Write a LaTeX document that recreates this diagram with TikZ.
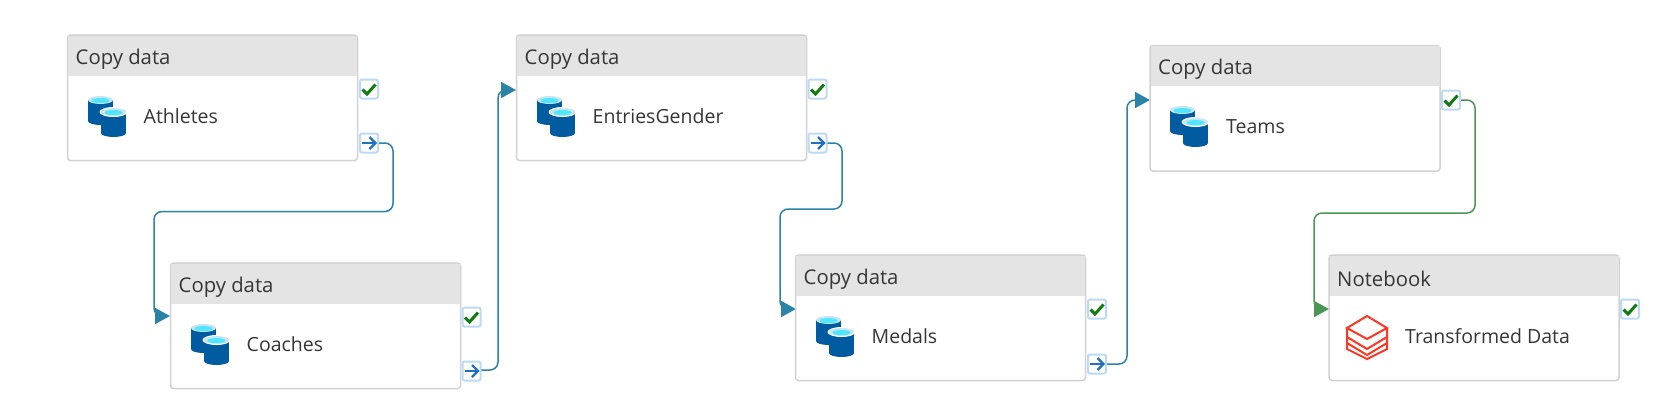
\documentclass[tikz,border=0pt]{standalone}
\usepackage{fontspec}
\setmainfont{Open Sans}
\usetikzlibrary{arrows.meta,calc}
\definecolor{boxline}{HTML}{D2D2D2}
\definecolor{headfill}{HTML}{E4E4E4}
\definecolor{inktext}{HTML}{363636}
\definecolor{dbblue}{HTML}{005BA1}
\definecolor{dbcyan}{HTML}{50E6FF}
\definecolor{dbrim}{HTML}{C8E6F0}
\definecolor{dbred}{HTML}{FF3621}
\definecolor{okgreen}{HTML}{107C10}
\definecolor{arrowblue}{HTML}{1F70C1}
\definecolor{iconedge}{HTML}{BBDAF5}
\definecolor{flowteal}{HTML}{2B84A8}
\definecolor{flowgreen}{HTML}{4A9655}
\tikzset{
  x=1pt,y=-1pt,
  actbox/.style={draw=boxline,line width=1.5pt,fill=white,rounded corners=3pt,minimum width=290pt,minimum height=125.5pt,anchor=north west,inner sep=0pt,outer sep=0pt},
  acthead/.style={fill=headfill,minimum width=289pt,minimum height=40pt,anchor=north west,inner sep=0pt,outer sep=0pt},
  acttype/.style={anchor=west,text=inktext,inner sep=0pt,font=\fontsize{20.3}{24}\selectfont},
  actname/.style={anchor=west,text=inktext,inner sep=0pt,font=\fontsize{19.5}{24}\selectfont},
  iconbox/.style={draw=iconedge,line width=2pt,fill=white,rounded corners=2pt,minimum width=18pt,minimum height=19pt,inner sep=0pt,outer sep=0pt},
  flow/.style={draw=flowteal,line width=1.5pt,rounded corners=8pt,-{Triangle[length=15pt,width=16pt,fill=flowteal]}},
  flowok/.style={draw=flowgreen,line width=1.5pt,rounded corners=8pt,-{Triangle[length=15pt,width=16pt,fill=flowgreen]}},
  checkmark/.style={draw=okgreen,line width=3pt},
  gomark/.style={draw=arrowblue,line width=2.4pt},
  dbicon/.pic={
    \fill[dbblue] (0,4) rectangle (25,25);
    \fill[dbblue] (12.5,25) ellipse [x radius=12.5pt,y radius=4pt];
    \fill[dbrim] (12.5,4) ellipse [x radius=12.5pt,y radius=4pt];
    \fill[dbcyan] (12.5,4.6) ellipse [x radius=9pt,y radius=2.6pt];
    \fill[dbblue] (13,16) rectangle (38,37);
    \fill[dbblue] (25.5,37) ellipse [x radius=12.5pt,y radius=4pt];
    \fill[white] (25.5,16) ellipse [x radius=14pt,y radius=5pt];
    \fill[dbrim] (25.5,16) ellipse [x radius=12.5pt,y radius=4pt];
    \fill[dbcyan] (25.5,16.6) ellipse [x radius=9pt,y radius=2.6pt];
  },
  brickicon/.pic={
    \draw[dbred,line width=2pt,line join=miter] (20,0) -- (0,12) -- (20,23) -- (40,12) -- cycle;
    \draw[dbred,line width=2pt] (0,12) -- (0,21) -- (20,33) -- (40,21) -- (40,12);
    \draw[dbred,line width=2pt] (0,27) -- (20,39) -- (40,27) -- (40,21);
    \draw[dbred,line width=2pt] (0,21) -- (0,33) -- (20,43) -- (40,33) -- (40,27);
  }
}
\newcommand{\activity}[5]{%
  \node[actbox] (#1) at (#2,#3) {};
  \node[acthead] (#1head) at ({#2+0.5},{#3+0.5}) {};
  \node[acttype] (#1type) at ({#2+8},{#3+24}) {#4};
  \node[actname] (#1name) at ({#2+76},{#3+81.5}) {#5};
}
\newcommand{\okicon}[3]{%
  \node[iconbox] (#1) at (#2,#3) {};
  \draw[checkmark] ($(#1.center)+(-6.5,0.5)$) -- ($(#1.center)+(-2,5)$) -- ($(#1.center)+(6.5,-4.5)$);
}
\newcommand{\goicon}[3]{%
  \node[iconbox] (#1) at (#2,#3) {};
  \draw[gomark] ($(#1.center)+(-7,0)$) -- ($(#1.center)+(6,0)$);
  \draw[gomark] ($(#1.center)+(0.5,-6)$) -- ($(#1.center)+(6.5,0)$) -- ($(#1.center)+(0.5,6)$);
}
\begin{document}
\begin{tikzpicture}
\useasboundingbox (0,0) rectangle (1679,413);
\fill[white] (0,0) rectangle (1679,413);

% connectors
\coordinate (t1a) at (393,211.5);
\coordinate (t1b) at (154,211.5);
\coordinate (in2) at (170,316);
\coordinate (t2a) at (498,90);
\coordinate (in3) at (516,90);
\coordinate (t3a) at (842,209);
\coordinate (t3b) at (780,209);
\coordinate (in4) at (796,309);
\coordinate (t4a) at (1127,100);
\coordinate (in5) at (1150,100);
\coordinate (t5a) at (1475,213);
\coordinate (t5b) at (1314,213);
\coordinate (in6) at (1329,309);
\coordinate (o1) at (378,143);
\coordinate (o2) at (480,370);
\coordinate (o3) at (827,143);
\coordinate (o4) at (1106,364);
\coordinate (o5) at (1460,100);

\draw[flow] (o1) -| (t1a) -- (t1b) |- (in2);
\draw[flow] (o2) -| (t2a) -- (in3);
\draw[flow] (o3) -| (t3a) -- (t3b) |- (in4);
\draw[flow] (o4) -| (t4a) -- (in5);
\draw[flowok] (o5) -| (t5a) -- (t5b) |- (in6);

% activities
\activity{athletes}{67.5}{35}{Copy data}{Athletes}
\activity{coaches}{170.5}{263}{Copy data}{Coaches}
\activity{entries}{516.5}{35}{Copy data}{EntriesGender}
\activity{medals}{795.5}{255}{Copy data}{Medals}
\activity{teams}{1150}{45.5}{Copy data}{Teams}
\activity{notebook}{1329}{255}{Notebook}{Transformed Data}

\pic at (88,96) {dbicon};
\pic at (191,324) {dbicon};
\pic at (537,96) {dbicon};
\pic at (816,316) {dbicon};
\pic at (1170,106) {dbicon};
\pic at (1347,316) {brickicon};

\okicon{okA}{369}{89}
\goicon{goA}{369}{143}
\okicon{okB}{471.5}{317}
\goicon{goB}{471.5}{371}
\okicon{okC}{817.5}{89}
\goicon{goC}{817.5}{143}
\okicon{okD}{1097}{309}
\goicon{goD}{1097}{364}
\okicon{okE}{1451}{100}
\okicon{okF}{1630}{309}
\end{tikzpicture}
\end{document}
